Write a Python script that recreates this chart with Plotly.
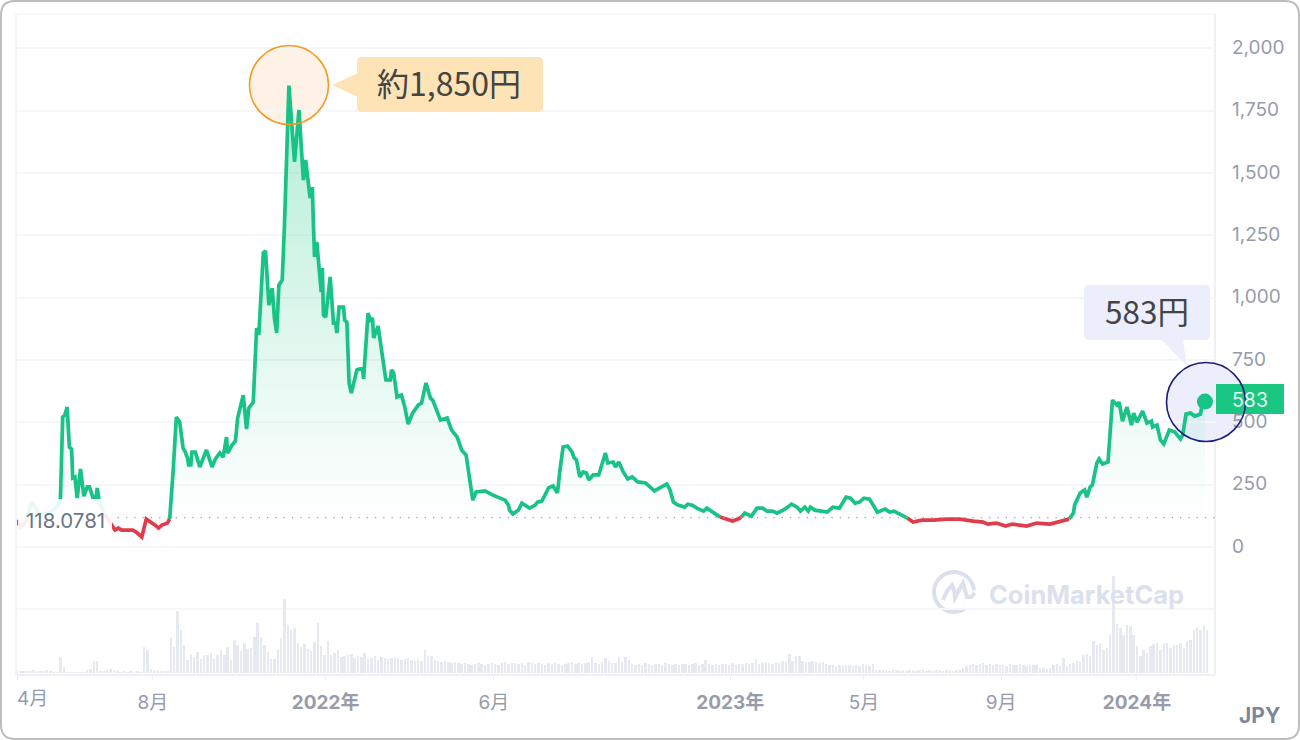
import math
import pandas as pd
import plotly.graph_objects as go

START = pd.Timestamp("2021-04-01")
BASELINE = 118.0781

price_days = [0,3,8,13,21,30,37,39,41,43,45,47,49,50,52,54,57,60,63,65,68,71,72,73,74,79,83,
 86,88,91,94,100,104,108,112,116,119,124,127,130,135,137,139,140,143,146,149,151,153,154,156,157,160,
 164,170,175,178,182,185,188,189,193,196,198,203,206,208,212,215,217,221,223,226,229,231,233,235,238,240,
 244,249,253,257,259,263,265,266,267,269,273,274,275,277,281,284,286,287,289,293,294,296,298,300,305,310,
 311,315,317,319,320,324,331,335,336,338,341,345,348,351,355,360,363,367,371,373,380,386,390,395,399,403,
 406,409,412,420,427,433,438,441,442,445,450,453,458,460,465,467,471,474,477,481,485,487,490,494,498,500,
 502,505,508,511,513,517,522,528,530,535,537,540,544,548,552,557,564,572,577,583,586,589,593,599,602,606,
 610,616,619,625,631,637,642,647,650,653,659,664,669,673,678,682,689,695,700,703,707,710,712,716,727,732,
 738,744,748,752,756,760,765,772,779,783,787,795,799,804,812,822,834,846,858,867,871,879,887,893,906,915,
 927,933,944,948,949,954,958,960,963,965,969,971,974,976,979,983,987,989,992,996,1000,1002,1005,1010,1014,
 1018,1019,1023,1026,1029,1034,1039,1044,1046,1049,1053,1057,1062,1064,1066]
price_values = [108,80,100,180,128,140,168,196,521,529,561,401,393,277,281,196,313,204,241,241,200,200,237,200,176,128,100,
 84,68,76,68,68,68,56,40,112,104,88,76,88,96,112,277,297,521,501,397,381,357,329,329,381,381,
 321,389,321,353,377,361,441,377,409,425,517,609,473,557,581,878,850,1179,1187,970,1038,918,858,1050,1071,1291,
 1850,1544,1752,1471,1552,1399,1443,1291,1163,1223,1022,1119,930,922,1083,898,898,858,962,962,910,902,658,617,710,718,
 674,938,910,918,838,886,670,670,710,698,601,609,561,493,537,569,577,658,597,589,509,517,469,441,389,369,
 289,188,221,225,208,196,188,168,148,132,148,176,160,156,168,180,184,208,237,245,217,301,401,405,381,357,
 349,281,301,297,269,289,289,377,337,341,321,341,301,273,281,261,257,225,237,253,229,180,168,160,172,168,
 156,144,156,136,120,112,104,112,120,136,124,156,156,144,144,136,152,172,160,144,160,144,160,148,140,160,
 156,200,196,176,180,196,192,140,152,140,144,124,116,100,108,108,112,112,104,100,92,96,84,92,84,96,
 92,100,112,136,168,217,229,200,241,249,337,353,333,337,341,589,569,581,505,561,489,537,501,545,497,
 505,481,489,429,413,469,461,433,449,533,537,525,533,583,583]

volume_values = [3,2,2,2,2,3,2,2,2,3, 2,1,1,16,6,1,1,1,1,1, 1,3,4,12,12,2,2,3,4,3, 2,1,2,1,2,1,2,1,26,23,
 4,3,2,2,2,2,36,26,62,43, 28,13,19,16,21,14,18,18,20,14, 18,23,18,26,13,33,28,22,30,24, 25,36,50,36,28,21,14,14,24,35,
 74,48,43,45,30,26,29,24,22,31, 50,27,18,32,18,20,23,16,17,18, 19,15,17,16,20,14,15,17,13,16, 15,14,15,16,15,13,14,15,13,12,
 13,12,23,17,17,13,12,11,12,11, 10,11,10,9,10,9,8,9,10,9, 8,9,10,9,8,10,11,9,10,10, 9,10,8,11,10,9,10,9,8,10,
 9,10,9,8,9,10,11,9,10,9, 10,11,16,10,9,11,15,12,10,10, 16,11,16,13,9,8,9,8,10,9, 8,9,9,8,10,9,8,9,8,9,
 9,8,9,10,8,9,13,9,8,9, 8,9,9,8,10,8,9,9,10,9, 10,14,9,10,11,10,9,11,10,12, 11,19,12,17,17,12,11,11,12,11,
 10,11,9,8,8,7,8,7,8,8, 7,8,7,9,8,7,9,3,3,3, 3,2,3,3,2,3,2,3,3,2, 3,3,2,3,2,3,3,2,3,3,
 2,3,3,5,7,8,9,8,9,10, 8,9,8,9,8,8,7,9,8,8, 9,8,7,8,8,8,5,5,4,5, 8,9,7,15,7,9,10,12,11,18,
 19,17,32,28,30,23,25,38,97,49, 45,38,48,47,38,27,17,23,20,27, 29,30,23,30,30,25,28,28,30,25, 32,33,43,46,43,48,43]
VOLUME_STEP_DAYS = 3

y_ticks = [-250,0,250,500,750,1000,1250,1500,1750,2000]
y_labels = ["","0","250","500","750","1,000","1,250","1,500","1,750","2,000"]
x_tick_dates = ["2021-04-01","2021-08-01","2022-01-03","2022-06-03","2023-01-01","2023-05-01","2023-09-01","2024-01-01"]
x_tick_labels = ["","8月","<b>2022年</b>","6月","<b>2023年</b>","5月","9月","<b>2024年</b>"]

GREEN = "#19c285"; RED = "#df3d4c"; GRID = "#f5f6f8"; TICK = "#969cab"; BOLD = "#7e8799"
FONT = "Inter, 'Noto Sans CJK JP', sans-serif"; JP = "'Noto Sans CJK JP', sans-serif"

L, R, T, B = 17, 1215, 14, 675
W = R - L; H = B - T
def px(x): return (x - L) / W
def py(y): return (B - y) / H
def d(n): return START + pd.Timedelta(days=n)

dates = [d(n) for n in price_days]
seg = {True: ([], []), False: ([], [])}
for i in range(len(dates) - 1):
    up = (price_values[i] + price_values[i + 1]) / 2 >= BASELINE
    xs, ys = seg[up]
    if xs and xs[-1] == dates[i]:
        xs.append(dates[i + 1]); ys.append(price_values[i + 1])
    else:
        if xs:
            xs.append(None); ys.append(None)
        xs += [dates[i], dates[i + 1]]; ys += [price_values[i], price_values[i + 1]]

fig = go.Figure()
fig.add_trace(go.Bar(x=[d(i * VOLUME_STEP_DAYS) for i in range(len(volume_values))], y=volume_values,
    yaxis="y2", width=2.2 * 86400000, marker=dict(color="#e6e9f0", line_width=0), hoverinfo="skip", showlegend=False))
fig.add_trace(go.Scatter(x=dates, y=price_values, mode="lines", line=dict(width=0, color=GREEN), fill="tozeroy",
    fillgradient=dict(type="vertical", start=100, stop=1850,
        colorscale=[[0, "rgba(22,199,132,0.0)"], [0.3, "rgba(22,199,132,0.09)"], [1, "rgba(22,199,132,0.33)"]]),
    hoverinfo="skip", showlegend=False))
fig.add_trace(go.Scatter(x=seg[True][0], y=seg[True][1], mode="lines", line=dict(width=3.7, color=GREEN), connectgaps=False, showlegend=False))
fig.add_trace(go.Scatter(x=seg[False][0], y=seg[False][1], mode="lines", line=dict(width=3.7, color=RED), connectgaps=False, showlegend=False))
fig.add_trace(go.Scatter(x=[dates[-1]], y=[price_values[-1]], mode="markers", marker=dict(size=16, color=GREEN), showlegend=False))

def poly(points, close=False):
    s = "M " + " L ".join(f"{px(x):.5f},{py(y):.5f}" for x, y in points)
    return s + (" Z" if close else "")

def rrect(x0, y0, x1, y1, r):
    f = lambda x, y: f"{px(x):.5f},{py(y):.5f}"
    return (f"M {f(x0+r,y0)} L {f(x1-r,y0)} Q {f(x1,y0)} {f(x1,y0+r)} L {f(x1,y1-r)} Q {f(x1,y1)} {f(x1-r,y1)} "
            f"L {f(x0+r,y1)} Q {f(x0,y1)} {f(x0,y1-r)} L {f(x0,y0+r)} Q {f(x0,y0)} {f(x0+r,y0)} Z")

def sh_path(path, fill="rgba(0,0,0,0)", line=None, lw=0, layer="above"):
    return dict(type="path", xref="paper", yref="paper", path=path, fillcolor=fill,
                line=dict(color=line or "rgba(0,0,0,0)", width=lw), layer=layer)

def circle(cx, cy, r, fill, line, lw, layer="above"):
    return dict(type="circle", xref="paper", yref="paper", x0=px(cx - r), x1=px(cx + r), y0=py(cy + r), y1=py(cy - r),
                fillcolor=fill, line=dict(color=line, width=lw), layer=layer)

def hline(x0, x1, y, color, lw, dash="solid", layer="below"):
    return dict(type="line", xref="paper", yref="paper", x0=px(x0), x1=px(x1), y0=py(y), y1=py(y),
                line=dict(color=color, width=lw, dash=dash), layer=layer)

def vline(x, y0, y1, color, lw):
    return dict(type="line", xref="paper", yref="paper", x0=px(x), x1=px(x), y0=py(y0), y1=py(y1),
                line=dict(color=color, width=lw), layer="below")

arc = [(954 + 20 * math.cos(math.radians(a)), 592 - 20 * math.sin(math.radians(a))) for a in range(5, 305, 8)]
wave = [(943,600),(947,591),(952,585),(954,590),(955,598),(959,590),(963,583),(965,590),(967,597),(971,597),(975,593)]

shapes = [
    hline(L, R, 14, GRID, 1.5), hline(L, R, 675, "#eef0f4", 2),
    vline(16, 14, 675, "#f1f3f6", 2), vline(1215, 14, 675, "#eef0f4", 2),
    sh_path(poly(arc), line="#dbe1ec", lw=4, layer="below"),
    sh_path(poly(wave), line="#dbe1ec", lw=4, layer="below"),
    circle(289, 85, 39.5, "#fdf2e5", "rgba(0,0,0,0)", 0, layer="below"),
    circle(1206, 402, 39.5, "#eceffb", "rgba(0,0,0,0)", 0, layer="below"),
    dict(type="line", xref="paper", yref="y", x0=px(18), x1=1, y0=BASELINE, y1=BASELINE,
         line=dict(color="#9aa2b2", width=1.3, dash="1.3px,7px"), layer="above"),
    dict(type="rect", xref="paper", yref="paper", x0=px(18), x1=px(112), y0=py(538), y1=py(499),
         fillcolor="rgba(255,255,255,0.9)", line_width=0, layer="above"),
    sh_path(rrect(357, 57, 543, 112, 5), fill="#fde3b5"),
    sh_path(poly([(332, 85), (358, 73), (358, 97)], True), fill="#fde3b5"),
    circle(289, 85, 39.5, "rgba(0,0,0,0)", "#f49a20", 1.6),
    sh_path(rrect(1084, 285, 1210, 340, 5), fill="#eceffb"),
    sh_path(poly([(1161, 339), (1183, 339), (1187, 366)], True), fill="#eceffb"),
    dict(type="rect", xref="paper", yref="paper", x0=px(1216), x1=px(1284), y0=py(414), y1=py(384),
         fillcolor="#19c682", line_width=0, layer="above"),
    circle(1206, 402, 39.5, "rgba(0,0,0,0)", "#1b1f78", 1.6),
    sh_path(rrect(1, 1, 1299, 739, 14), line="#bdbdbd", lw=2),
]

def ann(x, y, text, size, color, font=FONT, xanchor="center"):
    return dict(xref="paper", yref="paper", x=px(x), y=py(y), text=text, showarrow=False, xanchor=xanchor, yanchor="middle",
                font=dict(size=size, color=color, family=font))

annotations = [
    ann(449, 82, "約1,850円", 32, "#444444", JP),
    ann(1147, 310, "583円", 31.5, "#444444", JP),
    ann(1250, 400, "583", 19.5, "#e8f9f2"),
    ann(65, 520, "118.0781", 20.5, "#6c7488"),
    ann(32, 699, "4月", 19, TICK),
    ann(1259, 715, "<b>JPY</b>", 21, BOLD),
    ann(1086, 594, "<b>CoinMarketCap</b>", 25.5, "#dbe1ec"),
]

fig.update_layout(
    width=1300, height=740, margin=dict(l=L, r=1300 - R, t=T, b=740 - B, pad=0),
    paper_bgcolor="white", plot_bgcolor="rgba(0,0,0,0)", showlegend=False, bargap=0, dragmode=False,
    xaxis=dict(type="date", range=[START, d(1075)], tickmode="array", tickvals=x_tick_dates, ticktext=x_tick_labels,
        showgrid=False, zeroline=False, ticks="outside", ticklen=4, tickcolor="#eef0f4", ticklabelstandoff=6,
        tickfont=dict(size=19, color=TICK, family=FONT), showline=False),
    yaxis=dict(side="right", range=[-513, 2137], tickmode="array", tickvals=y_ticks, ticktext=y_labels,
        showgrid=True, gridcolor=GRID, gridwidth=1.6, zeroline=False, ticks="", ticklabelstandoff=16,
        ticklabelshift=-1, tickfont=dict(size=19, color=TICK, family=FONT), showline=False),
    yaxis2=dict(overlaying="y", side="right", range=[-2, 659], visible=False),
    shapes=shapes, annotations=annotations,
)

fig.write_html("out.html", config=dict(displayModeBar=False),
               post_script="document.body.style.margin='0';document.body.style.overflow='hidden';")
